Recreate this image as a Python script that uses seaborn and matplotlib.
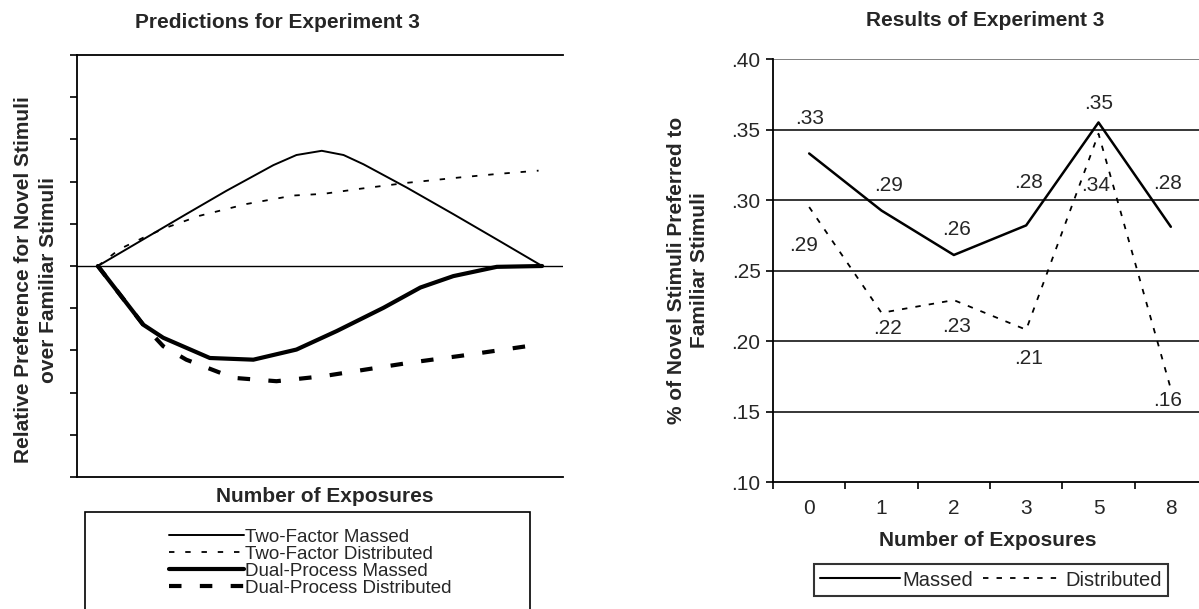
import matplotlib
matplotlib.use("Agg")
import matplotlib.pyplot as plt
import seaborn as sns
import pandas as pd
import numpy as np
from matplotlib.patches import Rectangle
from matplotlib.lines import Line2D

sns.set_theme(style="white")
plt.rcParams['font.family'] = ['Liberation Sans', 'DejaVu Sans']

# ---------------- data: predictions (schematic curves) ----------------
tf_massed_x = [0, 0.199, 0.289, 0.395, 0.447, 0.504, 0.553, 0.598, 0.695, 0.80, 0.898, 1.0]
tf_massed_y = [0, 1.23, 1.78, 2.39, 2.63, 2.73, 2.63, 2.41, 1.86, 1.23, 0.63, 0.0]
tf_dist_x = [0, 0.049, 0.102, 0.154, 0.229, 0.335, 0.44, 0.508, 0.59, 0.695, 0.816, 0.898, 0.992]
tf_dist_y = [0, 0.40, 0.67, 0.91, 1.19, 1.47, 1.67, 1.71, 1.83, 1.97, 2.10, 2.18, 2.26]
dp_massed_x = [0, 0.102, 0.147, 0.252, 0.35, 0.447, 0.538, 0.643, 0.726, 0.80, 0.898, 1.0]
dp_massed_y = [0, -1.39, -1.70, -2.18, -2.22, -1.98, -1.54, -0.99, -0.51, -0.24, -0.02, 0.0]
dp_dist_x = [0, 0.102, 0.147, 0.199, 0.305, 0.402, 0.508, 0.605, 0.703, 0.816, 0.914, 0.966]
dp_dist_y = [0, -1.39, -1.90, -2.22, -2.65, -2.73, -2.61, -2.45, -2.29, -2.13, -1.98, -1.90]
pred_labels = ["Two-Factor Massed", "Two-Factor Distributed",
               "Dual-Process Massed", "Dual-Process Distributed"]

# ---------------- data: results ----------------
exposures = ["0", "1", "2", "3", "5", "8"]
massed = [0.333, 0.2925, 0.261, 0.282, 0.355, 0.281]
distributed = [0.295, 0.220, 0.229, 0.208, 0.347, 0.166]
massed_text = [".33", ".29", ".26", ".28", ".35", ".28"]
distributed_text = [".29", ".22", ".23", ".21", ".34", ".16"]
ytick_vals = [0.10, 0.15, 0.20, 0.25, 0.30, 0.35, 0.40]
ytick_text = [".10", ".15", ".20", ".25", ".30", ".35", ".40"]

W, H = 1199, 609
fig = plt.figure(figsize=(W / 100, H / 100), dpi=100)
fig.patch.set_facecolor("white")

def fx(px):
    return px / W

def fy(py):
    return 1 - py / H

FS = 15

# ================= LEFT PANEL =================
axL = fig.add_axes([fx(77), fy(477), fx(563) - fx(77), fy(55) - fy(477)])
axL.set_facecolor("white")

styles = [
    dict(lw=1.4, ls="-"),
    dict(lw=1.3, ls=(0, (3.0, 6.0))),
    dict(lw=3.0, ls="-"),
    dict(lw=3.0, ls=(0, (3.0, 4.4))),
]
series = [(tf_massed_x, tf_massed_y), (tf_dist_x, tf_dist_y),
          (dp_massed_x, dp_massed_y), (dp_dist_x, dp_dist_y)]
for (xs, ys), st in zip(series, styles):
    df = pd.DataFrame({"x": xs, "y": ys})
    sns.lineplot(data=df, x="x", y="y", ax=axL, color="black", sort=False,
                 linewidth=st["lw"], linestyle=st["ls"], estimator=None)

axL.axhline(0, color="black", lw=1.0, zorder=0)
axL.set_xlim(-0.047, 1.047)
axL.set_ylim(-5, 5)
axL.set_yticks(np.arange(-5, 6, 1))
axL.set_yticklabels([])
axL.set_xticks([])
axL.tick_params(axis="y", direction="out", length=5, width=1.2, color="black", left=True)
for s in ["left", "top", "bottom"]:
    axL.spines[s].set_visible(True)
    axL.spines[s].set_color("black")
    axL.spines[s].set_linewidth(1.3)
axL.spines["right"].set_visible(False)
axL.set_xlabel("")
axL.set_ylabel("")

fig.text(fx(277), fy(22), "Predictions for Experiment 3", ha="center", va="center",
         fontsize=FS, fontweight="bold")
fig.text(fx(36), fy(280), "Relative Preference for Novel Stimuli\nover Familiar Stimuli",
         ha="center", va="center", rotation=90, fontsize=FS, fontweight="bold",
         linespacing=1.35)
fig.text(fx(325), fy(496), "Number of Exposures", ha="center", va="center",
         fontsize=FS, fontweight="bold")

# legend box (left)
fig.patches.append(Rectangle((fx(85), fy(612)), fx(530) - fx(85), fy(512) - fy(612),
                             transform=fig.transFigure, fill=False,
                             edgecolor="black", lw=1.2))
handlesL = [Line2D([], [], color="black", linewidth=st["lw"], linestyle=st["ls"]) for st in styles]
legL = fig.legend(handlesL, pred_labels, loc="upper center",
                  bbox_to_anchor=(fx(310), fy(519)), frameon=False,
                  fontsize=13.5, handlelength=4.0, handletextpad=0.08,
                  labelspacing=0.0, borderpad=0.0)

# ================= RIGHT PANEL =================
axR = fig.add_axes([fx(773), fy(482), fx(1207) - fx(773), fy(59) - fy(482)])
axR.set_facecolor("white")
dfr = pd.DataFrame({"exp": list(range(len(exposures))) * 2,
                    "val": massed + distributed,
                    "cond": ["Massed"] * len(exposures) + ["Distributed"] * len(exposures)})
sns.lineplot(data=dfr[dfr.cond == "Massed"], x="exp", y="val", ax=axR,
             color="black", linewidth=1.8, estimator=None)
sns.lineplot(data=dfr[dfr.cond == "Distributed"], x="exp", y="val", ax=axR,
             color="black", linewidth=1.3, linestyle=(0, (3.0, 4.5)), estimator=None)

for yv in ytick_vals[1:-1]:
    axR.axhline(yv, color="black", lw=1.1, zorder=0)
axR.axhline(0.40, color="#777777", lw=1.3, zorder=0)

axR.set_xlim(-0.5, len(exposures) - 0.5)
axR.set_ylim(0.10, 0.40)
axR.set_yticks(ytick_vals)
axR.set_yticklabels(ytick_text, fontsize=FS)
axR.set_xticks(range(len(exposures)))
axR.set_xticklabels(exposures, fontsize=FS)
axR.set_xticks(np.arange(-0.5, len(exposures), 1), minor=True)
axR.tick_params(axis="x", which="major", length=0, pad=12)
axR.tick_params(axis="x", which="minor", direction="out", length=5, width=1.2, color="black", bottom=True)
axR.tick_params(axis="y", direction="out", length=5, width=1.2, color="black", left=True, pad=4)
for s in ["left", "bottom"]:
    axR.spines[s].set_visible(True)
    axR.spines[s].set_color("black")
    axR.spines[s].set_linewidth(1.3)
axR.spines["top"].set_visible(False)
axR.spines["right"].set_visible(False)
axR.set_xlabel("")
axR.set_ylabel("")

m_offsets = [(0, 25), (5, 18), (2, 18), (2, 31), (0, 14), (-2, 31)]
d_offsets = [(-4, -28), (4, -11), (2, -19), (2, -21), (-2, -37), (-2, -8)]
for i in range(len(exposures)):
    axR.annotate(massed_text[i], (i, massed[i]), textcoords="offset points",
                 xytext=m_offsets[i], ha="center", va="center", fontsize=FS)
    axR.annotate(distributed_text[i], (i, distributed[i]), textcoords="offset points",
                 xytext=d_offsets[i], ha="center", va="center", fontsize=FS)

fig.text(fx(985), fy(20), "Results of Experiment 3", ha="center", va="center",
         fontsize=FS, fontweight="bold")
fig.text(fx(688), fy(270), "% of Novel Stimuli Preferred to\nFamiliar Stimuli",
         ha="center", va="center", rotation=90, fontsize=FS, fontweight="bold",
         linespacing=1.25)
fig.text(fx(988), fy(540), "Number of Exposures", ha="center", va="center",
         fontsize=FS, fontweight="bold")

handlesR = [Line2D([], [], color="black", linewidth=1.5, linestyle="-"),
            Line2D([], [], color="black", linewidth=1.3, linestyle=(0, (3.0, 4.5)))]
legR = fig.legend(handlesR, ["Massed", "Distributed"], loc="center",
                  bbox_to_anchor=(fx(991), fy(580)), ncol=2, frameon=True,
                  fontsize=14.5, handlelength=4.0, handletextpad=0.1,
                  columnspacing=0.5, borderpad=0.3, fancybox=False)
legR.get_frame().set_edgecolor("black")
legR.get_frame().set_linewidth(1.5)

fig.savefig("out.png", dpi=100, facecolor="white")
